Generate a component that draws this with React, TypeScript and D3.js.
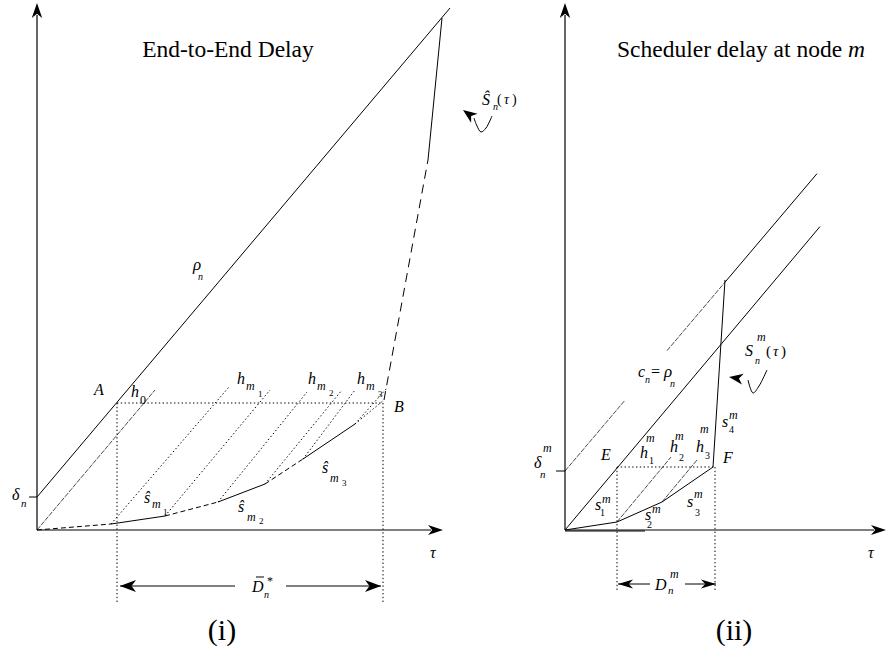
import React from "react";
import * as d3 from "d3";

type Pt = [number, number];

// ---------------- Panel (i): End-to-End Delay (abstract units) ----------------
const xMaxI = 40.6;
const yMaxAll = 52.7;
const rhoDeltaI = 3.3;
const rhoSlopeI = 1.184;
const rhoEndI = 41.3;
const sHatPts: Pt[] = [
  [0, 0], [7.4, 0.6], [12.8, 1.4], [18.1, 2.8], [22.8, 4.6], [26.6, 7.1],
  [31.8, 10.6], [34.7, 13.0], [39.1, 37.0], [40.5, 51.2],
];
const sHatStyles = ["dash", "solid", "dash", "solid", "dash", "solid", "dot", "longdash", "solid"];
const hLinesI: Pt[][] = [
  [[0, 0], [11.8, 14.0]],
  [[7.4, 0.6], [19.2, 14.3]],
  [[12.8, 1.4], [23.3, 14.0]],
  [[18.1, 2.8], [27.0, 13.8]],
  [[22.8, 4.6], [30.5, 14.0]],
  [[26.6, 7.1], [31.8, 14.0]],
  [[31.8, 10.6], [35.0, 14.2]],
];
const hStylesI = ["fine", "dot", "dot", "dot", "dot", "dot", "dot"];
const abLevelI = 12.7;
const aXI = 8.0;
const bXI = 34.6;
const dropI = -7.3;
const dimYI = -5.6;
const dimGapI: Pt = [19.8, 24.9];
const curlI: Pt[] = [[45.5, 41.4], [44.9, 40.2], [44.4, 39.8], [44.0, 40.4], [43.7, 41.2]];
const curlTipI: Pt = [42.6, 42.0];

// ---------------- Panel (ii): Scheduler delay at node m ----------------
const xMaxII = 32.1;
const cDeltaII = 5.9;
const cSlopeII = 1.18;
const upperSegs: [number, number, string][] = [[0, 6.0, "fine"], [10.2, 16.0, "fine"], [16.0, 25.2, "solid"]];
const lowerSlopeII = 1.19;
const lowerEndII = 25.5;
const sMPts: Pt[] = [[0, 0], [5.2, 0.8], [9.7, 2.8], [14.8, 6.3], [16.0, 25.0]];
const hLinesII: Pt[][] = [
  [[5.2, 0.8], [10.6, 7.3]],
  [[9.7, 2.8], [13.2, 7.0]],
];
const efLevelII = 6.3;
const eXII = 5.2;
const fXII = 15.0;
const dropII = -6.0;
const dimYII = -5.4;
const dimGapII: Pt = [8.5, 12.0];
const baseDoubleII = 8.0;
const curlII: Pt[] = [[20.2, 16.0], [19.4, 14.4], [18.8, 13.7], [18.3, 15.0]];
const curlTipII: Pt = [16.4, 15.3];

const serif = "'Liberation Serif', 'Times New Roman', Times, serif";

const dashes: Record<string, string | undefined> = {
  solid: undefined,
  dash: "5,3",
  longdash: "9,6",
  dot: "1.4,2.4",
  fine: "5,1.2",
};
const widths: Record<string, number> = { solid: 1, dash: 1, longdash: 1, dot: 1, fine: 0.7 };

function head(tip: Pt, from: Pt, L: number, w: number): string {
  const dx = tip[0] - from[0];
  const dy = tip[1] - from[1];
  const len = Math.hypot(dx, dy) || 1;
  const ux = dx / len, uy = dy / len;
  const nx = -uy, ny = ux;
  const bx = tip[0] - ux * L, by = tip[1] - uy * L;
  const kx = tip[0] - ux * L * 0.72, ky = tip[1] - uy * L * 0.72;
  return `M${tip[0]},${tip[1]}L${bx + nx * w},${by + ny * w}L${kx},${ky}L${bx - nx * w},${by - ny * w}Z`;
}

const T = (x: number, y: number, s: string, size = 16, italic = true, anchor: "start" | "middle" = "start") => (
  <text x={x} y={y} fontSize={size} fontStyle={italic ? "italic" : "normal"} fontFamily={serif} textAnchor={anchor} fill="#000">
    {s}
  </text>
);

// composite label: pieces [x, y, text, size, italic]
type Piece = [number, number, string, number, boolean];
const M = (pieces: Piece[]) => (
  <text fontFamily={serif} fill="#000">
    {pieces.map(([x, y, s, size, it], i) => (
      <tspan key={i} x={x} y={y} fontSize={size} fontStyle={it ? "italic" : "normal"}>
        {s}
      </tspan>
    ))}
  </text>
);

export default function App() {
  const xi = d3.scaleLinear().domain([0, xMaxI]).range([37, 443]);
  const y = d3.scaleLinear().domain([0, yMaxAll]).range([530, 3]);
  const xii = d3.scaleLinear().domain([0, xMaxII]).range([565, 886]);

  const lineI = d3.line<Pt>().x((d) => xi(d[0])).y((d) => y(d[1]));
  const lineII = d3.line<Pt>().x((d) => xii(d[0])).y((d) => y(d[1]));
  const curveI = d3.line<Pt>().x((d) => xi(d[0])).y((d) => y(d[1])).curve(d3.curveCatmullRom);
  const curveII = d3.line<Pt>().x((d) => xii(d[0])).y((d) => y(d[1])).curve(d3.curveCatmullRom);

  const seg = (p: string | null, style: string, key: string | number) => (
    <path key={key} d={p || ""} fill="none" stroke="#000" strokeWidth={widths[style]} strokeDasharray={dashes[style]} />
  );

  const curlIpts: Pt[] = [...curlI, curlTipI];
  const curlIIpts: Pt[] = [...curlII, curlTipII];
  const pxI = (p: Pt): Pt => [xi(p[0]), y(p[1])];
  const pxII = (p: Pt): Pt => [xii(p[0]), y(p[1])];

  return (
    <svg width={887} height={655} style={{ position: "absolute", left: 0, top: 0, background: "#fff" }}>
      <rect x={0} y={0} width={887} height={655} fill="#fff" />
      {/* ===== Panel (i) ===== */}
      <line x1={xi(0)} y1={y(0)} x2={xi(0)} y2={y(yMaxAll) + 12} stroke="#000" strokeWidth={1.2} />
      <path d={head([xi(0), y(yMaxAll)], [xi(0), y(0)], 15, 5.2)} fill="#000" />
      <line x1={xi(0)} y1={y(0)} x2={xi(xMaxI) - 12} y2={y(0)} stroke="#000" strokeWidth={1.2} />
      <path d={head([xi(xMaxI), y(0)], [xi(0), y(0)], 15, 5)} fill="#000" />

      {/* rho line */}
      {seg(lineI([[0, rhoDeltaI], [rhoEndI, rhoDeltaI + rhoSlopeI * rhoEndI]]), "solid", "rho")}
      <line x1={xi(0) - 8} y1={y(rhoDeltaI)} x2={xi(0)} y2={y(rhoDeltaI)} stroke="#000" strokeWidth={1} />

      {/* S-hat curve */}
      {sHatPts.slice(1).map((p, i) => seg(lineI([sHatPts[i], p]), sHatStyles[i], "sh" + i))}

      {/* h lines */}
      {hLinesI.map((l, i) => seg(lineI(l), hStylesI[i], "hi" + i))}

      {/* A-B dotted, verticals */}
      {seg(lineI([[aXI, abLevelI], [bXI, abLevelI]]), "dot", "ab")}
      {seg(lineI([[aXI, abLevelI], [aXI, dropI]]), "dot", "va")}
      {seg(lineI([[bXI, abLevelI], [bXI, dropI]]), "dot", "vb")}

      {/* dimension arrow */}
      {seg(lineI([[aXI + 0.3, dimYI], [dimGapI[0], dimYI]]), "solid", "d1")}
      {seg(lineI([[dimGapI[1], dimYI], [bXI - 0.2, dimYI]]), "solid", "d2")}
      <path d={head(pxI([aXI + 0.3, dimYI]), pxI([dimGapI[0], dimYI]), 16, 6)} fill="#000" />
      <path d={head(pxI([bXI - 0.2, dimYI]), pxI([dimGapI[1], dimYI]), 16, 6)} fill="#000" />

      {/* curl arrow */}
      <path d={curveI(curlI) || ""} fill="none" stroke="#000" strokeWidth={1} />
      <path d={head(pxI(curlTipI), pxI(curlIpts[curlIpts.length - 2]), 14, 5.5)} fill="#000" />

      {/* labels panel i */}
      {T(228, 57, "End-to-End Delay", 23.5, false, "middle")}
      {M([[193, 270, "ρ", 17, true], [198, 280, "n", 10, true]])}
      {T(94, 395, "A")}
      {M([[131, 397, "h", 16, true], [140, 404, "0", 12, false]])}
      {M([[237, 384, "h", 16, true], [246, 390, "m", 12, true], [258, 397, "1", 9, false]])}
      {M([[308, 384, "h", 16, true], [317, 390, "m", 12, true], [329, 396, "2", 9, false]])}
      {M([[357, 384, "h", 16, true], [366, 390, "m", 12, true], [378, 397, "3", 9, false]])}
      {T(394, 412, "B")}
      {M([[12, 500, "δ", 16, true], [21, 507, "n", 11, true]])}
      {M([[144, 503, "ŝ", 16, true], [152, 508, "m", 12, true], [163, 515, "1", 9, false]])}
      {M([[238, 512, "ŝ", 16, true], [247, 521, "m", 12, true], [259, 524, "2", 9, false]])}
      {M([[322, 473, "ŝ", 16, true], [330, 482, "m", 12, true], [342, 486, "3", 9, false]])}
      {T(430, 558, "τ")}
      <line x1={256} y1={577} x2={264} y2={577} stroke="#000" strokeWidth={1} />
      {M([[252, 592, "D", 16, true], [264, 598, "n", 10, true], [267, 585, "*", 12, false]])}
      {M([[482, 105, "Ŝ", 16, true], [493, 110, "n", 10, true], [497, 104, "(", 14, false], [504, 104, "τ", 14, true], [512, 104, ")", 14, false]])}
      {T(222, 640, "(i)", 30, false, "middle")}

      {/* ===== Panel (ii) ===== */}
      <line x1={xii(0)} y1={y(0)} x2={xii(0)} y2={y(yMaxAll) + 12} stroke="#000" strokeWidth={1.2} />
      <path d={head([xii(0), y(yMaxAll)], [xii(0), y(0)], 15, 5.2)} fill="#000" />
      <line x1={xii(0)} y1={y(0)} x2={xii(xMaxII) - 12} y2={y(0)} stroke="#000" strokeWidth={1.2} />
      <path d={head([xii(xMaxII), y(0)], [xii(0), y(0)], 15, 5)} fill="#000" />
      {seg(lineII([[0, -0.1], [baseDoubleII, -0.1]]), "solid", "dbl")}

      {/* delta line (upper) */}
      {upperSegs.map(([a, b, s], i) =>
        seg(lineII([[a, cDeltaII + cSlopeII * a], [b, cDeltaII + cSlopeII * b]]), s, "up" + i)
      )}
      <line x1={xii(0) - 9} y1={y(cDeltaII)} x2={xii(0)} y2={y(cDeltaII)} stroke="#000" strokeWidth={1} />
      {/* c = rho line (lower) */}
      {seg(lineII([[0, 0], [lowerEndII, lowerSlopeII * lowerEndII]]), "solid", "low")}

      {/* S^m curve */}
      {seg(lineII(sMPts), "solid", "sm")}
      {hLinesII.map((l, i) => seg(lineII(l), "fine", "hii" + i))}

      {seg(lineII([[eXII, efLevelII], [fXII, efLevelII]]), "dot", "ef")}
      {seg(lineII([[eXII, efLevelII], [eXII, dropII]]), "dot", "ve")}
      {seg(lineII([[fXII, efLevelII], [fXII, dropII]]), "dot", "vf")}

      {seg(lineII([[eXII + 0.1, dimYII], [dimGapII[0], dimYII]]), "solid", "e1")}
      {seg(lineII([[dimGapII[1], dimYII], [fXII + 0.1, dimYII]]), "solid", "e2")}
      <path d={head(pxII([eXII + 0.1, dimYII]), pxII([dimGapII[0], dimYII]), 15, 4.5)} fill="#000" />
      <path d={head(pxII([fXII + 0.1, dimYII]), pxII([dimGapII[1], dimYII]), 15, 4.5)} fill="#000" />

      <path d={curveII(curlII) || ""} fill="none" stroke="#000" strokeWidth={1} />
      <path d={head(pxII(curlTipII), pxII(curlIIpts[curlIIpts.length - 2]), 14, 5.5)} fill="#000" />

      {/* labels panel ii */}
      <text x={741} y={57} fontSize={23.5} fontFamily={serif} textAnchor="middle" fill="#000">
        Scheduler delay at node <tspan fontStyle="italic">m</tspan>
      </text>
      {M([[638, 377, "c", 16, true], [645, 383, "n", 10, true], [651, 377, "=", 16, false], [664, 377, "ρ", 17, true], [670, 387, "n", 10, true]])}
      {M([[745, 356, "S", 16, true], [757, 341, "m", 12, true], [755, 364, "n", 10, true], [766, 356, "(", 15, false], [773, 356, "τ", 15, true], [781, 356, ")", 15, false]])}
      {M([[722, 427, "s", 16, true], [729, 419, "m", 12, true], [729, 433, "4", 10, false]])}
      {T(601, 460, "E")}
      {T(723, 463, "F")}
      {M([[640, 458, "h", 16, true], [646, 442, "m", 12, true], [649, 464, "1", 10, false]])}
      {M([[670, 452, "h", 16, true], [675, 440, "m", 12, true], [679, 461, "2", 10, false]])}
      {M([[696, 452, "h", 16, true], [700, 433, "m", 12, true], [705, 459, "3", 10, false]])}
      {M([[595, 510, "s", 16, true], [602, 503, "m", 12, true], [600, 516, "1", 10, false]])}
      {M([[645, 520, "s", 16, true], [652, 513, "m", 12, true], [647, 528, "2", 10, false]])}
      {M([[687, 507, "s", 16, true], [694, 498, "m", 12, true], [695, 516, "3", 10, false]])}
      {M([[534, 468, "δ", 16, true], [543, 452, "m", 12, true], [540, 478, "n", 11, true]])}
      {M([[655, 590, "D", 16, true], [668, 594, "n", 11, true], [670, 578, "m", 12, true]])}
      {T(868, 558, "τ")}
      {T(734, 640, "(ii)", 30, false, "middle")}
    </svg>
  );
}
